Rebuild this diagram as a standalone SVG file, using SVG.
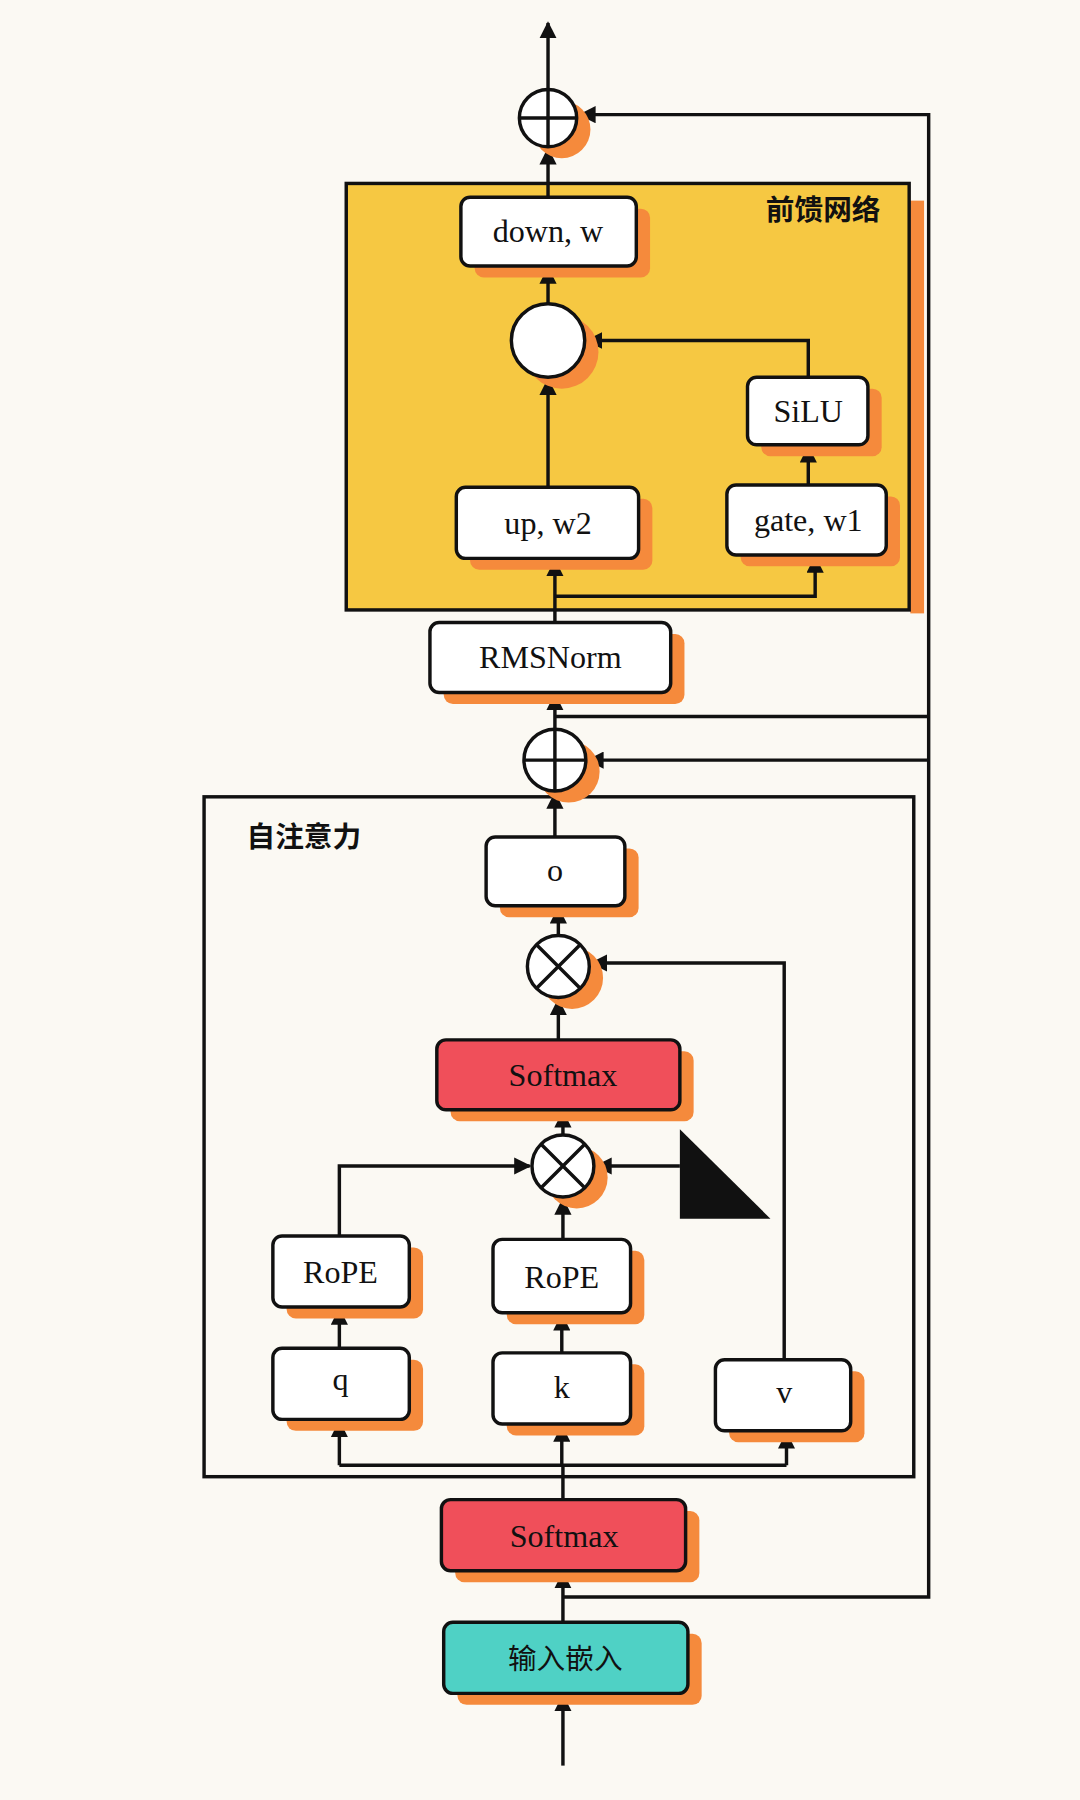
<svg xmlns="http://www.w3.org/2000/svg" width="1080" height="1800" viewBox="0 0 1080 1800">
<defs>
<marker id="ah" viewBox="0 0 10 10" refX="9" refY="5" markerWidth="5" markerHeight="5" orient="auto-start-reverse"><path d="M0,0 L10,5 L0,10 z" fill="#111"/></marker>
<style>
.sh{fill:#f58a3c}
.bx{fill:#fff;stroke:#111;stroke-width:3}
.red{fill:#f04f5a;stroke:#111;stroke-width:3}
.teal{fill:#4fd1c5;stroke:#111;stroke-width:3}
.t{font-family:"Liberation Serif",serif;font-size:28px;fill:#111;text-anchor:middle}
.c{font-family:"Liberation Sans","Noto Sans CJK SC",sans-serif;font-size:25px;font-weight:bold;fill:#111;text-anchor:middle}
.ln{fill:none;stroke:#111;stroke-width:3}
.ar{fill:none;stroke:#111;stroke-width:3;marker-end:url(#ah)}
</style>
</defs>
<rect width="1080" height="1800" fill="#fbf9f3"/>
<g transform="scale(1.1465)">
<g id="ffn"><rect x="794" y="175" width="12" height="360" class="sh"/><rect x="302" y="160" width="491" height="372" fill="#f6c842" stroke="#111" stroke-width="3"/><text x="718" y="192" class="c">前馈网络</text></g>
<g id="attn"><rect x="178" y="695" width="619" height="593" fill="none" stroke="#111" stroke-width="3"/><text x="265" y="739" class="c">自注意力</text></g>
<g id="connectors">
<path class="ar" d="M478,78 V20"/>
<path class="ar" d="M478,172 V130"/>
<path class="ar" d="M478,265 V234"/>
<path class="ar" d="M478,425 V331"/>
<path class="ar" d="M705,329 V297 H512"/>
<path class="ar" d="M705,423 V390"/>
<path class="ar" d="M484,543 V489"/>
<path class="ar" d="M484,520 H711 V486"/>
<path class="ar" d="M484,636 V606"/>
<path class="ar" d="M484,730 V692"/>
<path class="ar" d="M487,816 V792"/>
<path class="ar" d="M487,907 V872"/>
<path class="ar" d="M684,1186 V840 H516"/>
<path class="ar" d="M491,1081 V1046"/>
<path class="ar" d="M491,990 V970"/>
<path class="ar" d="M296,1078 V1017 H462"/>
<path class="ar" d="M593,1017 H520"/>
<path class="ar" d="M296,1176 V1142"/>
<path class="ar" d="M490,1180 V1147"/>
<path class="ln" d="M491,1308 V1278 M296,1278 H686"/>
<path class="ar" d="M296,1278 V1240"/>
<path class="ar" d="M490,1278 V1244"/>
<path class="ar" d="M686,1278 V1250"/>
<path class="ar" d="M491,1415 V1372"/>
<path class="ar" d="M491,1540 V1479"/>
<path class="ar" d="M491,1393 H810 V100 H506"/>
<path class="ln" d="M484,625 H810"/>
<path class="ar" d="M810,663 H513"/>
</g>
<g id="plusTop"><circle cx="490" cy="113" r="25" class="sh"/><circle cx="478" cy="103" r="25" class="bx"/><path class="ln" d="M453,103 H503 M478,78 V128"/></g>
<g id="downw"><rect x="414" y="182" width="153" height="60" rx="8" class="sh"/><rect x="402" y="172" width="153" height="60" rx="8" class="bx"/><text x="478" y="211" class="t">down, w</text></g>
<g id="mul"><circle cx="490" cy="307" r="32" class="sh"/><circle cx="478" cy="297" r="32" class="bx"/></g>
<g id="silu"><rect x="664" y="339" width="105" height="59" rx="8" class="sh"/><rect x="652" y="329" width="105" height="59" rx="8" class="bx"/><text x="705" y="368" class="t">SiLU</text></g>
<g id="upw2"><rect x="410" y="435" width="159" height="62" rx="8" class="sh"/><rect x="398" y="425" width="159" height="62" rx="8" class="bx"/><text x="478" y="466" class="t">up, w2</text></g>
<g id="gatew1"><rect x="646" y="433" width="139" height="61" rx="8" class="sh"/><rect x="634" y="423" width="139" height="61" rx="8" class="bx"/><text x="705" y="463" class="t">gate, w1</text></g>
<g id="rmsnorm"><rect x="387" y="553" width="210" height="61" rx="8" class="sh"/><rect x="375" y="543" width="210" height="61" rx="8" class="bx"/><text x="480" y="583" class="t">RMSNorm</text></g>
<g id="plusMid"><circle cx="496" cy="673" r="27" class="sh"/><circle cx="484" cy="663" r="27" class="bx"/><path class="ln" d="M457,663 H511 M484,636 V690"/></g>
<g id="o"><rect x="436" y="740" width="121" height="60" rx="8" class="sh"/><rect x="424" y="730" width="121" height="60" rx="8" class="bx"/><text x="484" y="768" class="t">o</text></g>
<g id="times1"><circle cx="499" cy="853" r="27" class="sh"/><circle cx="487" cy="843" r="27" class="bx"/><path class="ln" d="M468,824 L506,862 M506,824 L468,862"/></g>
<g id="softmax1"><rect x="393" y="917" width="212" height="61" rx="8" class="sh"/><rect x="381" y="907" width="212" height="61" rx="8" class="red"/><text x="491" y="947" class="t">Softmax</text></g>
<g id="times2"><circle cx="503" cy="1027" r="27" class="sh"/><circle cx="491" cy="1017" r="27" class="bx"/><path class="ln" d="M472,998 L510,1036 M510,998 L472,1036"/></g>
<g id="mask"><polygon points="593,985 593,1063 672,1063" fill="#111"/></g>
<g id="rope1"><rect x="250" y="1088" width="119" height="62" rx="8" class="sh"/><rect x="238" y="1078" width="119" height="62" rx="8" class="bx"/><text x="297" y="1119" class="t">RoPE</text></g>
<g id="rope2"><rect x="442" y="1091" width="120" height="64" rx="8" class="sh"/><rect x="430" y="1081" width="120" height="64" rx="8" class="bx"/><text x="490" y="1123" class="t">RoPE</text></g>
<g id="q"><rect x="250" y="1186" width="119" height="62" rx="8" class="sh"/><rect x="238" y="1176" width="119" height="62" rx="8" class="bx"/><text x="297" y="1212" class="t">q</text></g>
<g id="k"><rect x="442" y="1190" width="120" height="62" rx="8" class="sh"/><rect x="430" y="1180" width="120" height="62" rx="8" class="bx"/><text x="490" y="1219" class="t">k</text></g>
<g id="v"><rect x="636" y="1196" width="118" height="62" rx="8" class="sh"/><rect x="624" y="1186" width="118" height="62" rx="8" class="bx"/><text x="684" y="1224" class="t">v</text></g>
<g id="softmax2"><rect x="397" y="1318" width="213" height="62" rx="8" class="sh"/><rect x="385" y="1308" width="213" height="62" rx="8" class="red"/><text x="492" y="1349" class="t">Softmax</text></g>
<g id="embed"><rect x="399" y="1425" width="213" height="62" rx="8" class="sh"/><rect x="387" y="1415" width="213" height="62" rx="8" class="teal"/><text x="493" y="1456" class="c" style="font-weight:normal">输入嵌入</text></g>
</g>
</svg>
